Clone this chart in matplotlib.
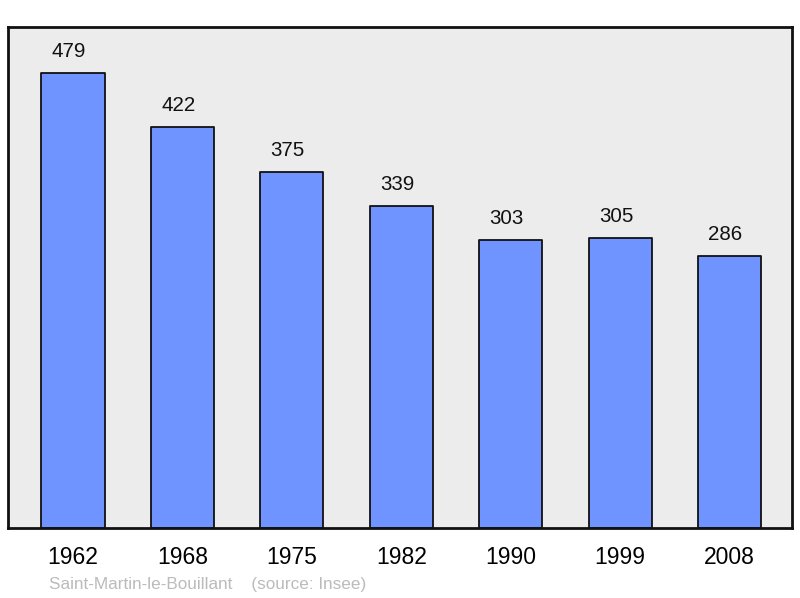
import matplotlib
matplotlib.use('Agg')
import matplotlib.pyplot as plt

years = ["1962", "1968", "1975", "1982", "1990", "1999", "2008"]
population = [479, 422, 375, 339, 303, 305, 286]
commune = "Saint-Martin-le-Bouillant"
source = "(source: Insee)"

plt.rcParams['font.family'] = ['Liberation Sans', 'DejaVu Sans']

fig = plt.figure(figsize=(8, 5.98), dpi=100)
ax = fig.add_axes([8 / 800, 70 / 598, 784 / 800, 501 / 598])
ax.set_facecolor("#ececec")

x = list(range(len(years)))
bars = ax.bar(x, population, width=0.576, color="#7094ff",
              edgecolor="#111111", linewidth=1.3, joinstyle="round")

for xi, v in zip(x, population):
    ax.annotate(str(v), (xi, v), xytext=(-3, 15.5), textcoords="offset points",
                ha="center", va="center", fontsize=14.8, color="#111111")

ax.set_xlim(-0.594, 6.571)
ax.set_ylim(0, 527.4)
ax.set_xticks(x)
ax.set_xticklabels(years, fontsize=16.5)
ax.tick_params(axis="x", length=0, pad=13)
ax.set_yticks([])
for s in ax.spines.values():
    s.set_linewidth(2)
    s.set_color("#111111")

fig.text(49 / 800, 1 - 584 / 598, commune + "    " + source, fontsize=12.3,
         color="#bbbbbb", ha="left", va="center")

fig.savefig("out.png", dpi=100)
